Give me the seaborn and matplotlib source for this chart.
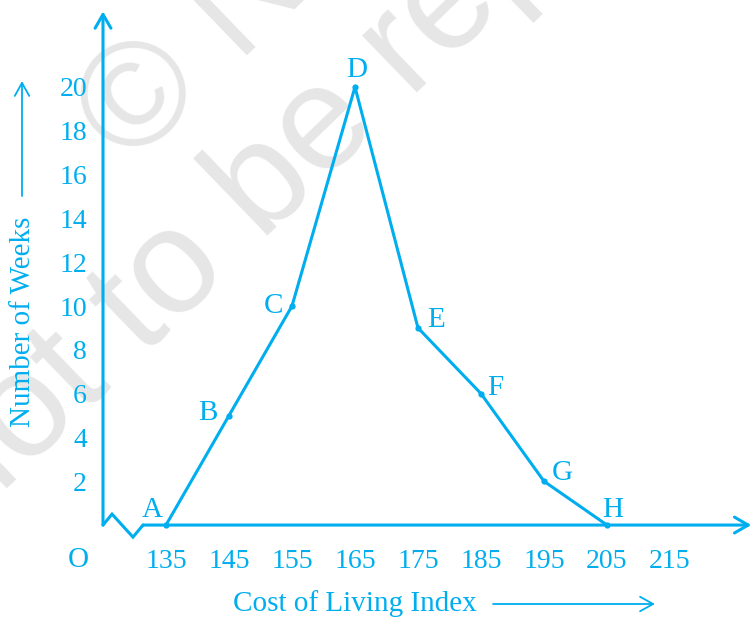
import numpy as np
import pandas as pd
import matplotlib
matplotlib.use("Agg")
import matplotlib.pyplot as plt
import seaborn as sns

# frequency polygon: cost of living index vs number of weeks
cost_index = [135, 145, 155, 165, 175, 185, 195, 205]
weeks = [0, 5, 10, 20, 9, 6, 2, 0]
point_names = ["A", "B", "C", "D", "E", "F", "G", "H"]
x_ticks = [135, 145, 155, 165, 175, 185, 195, 205, 215, 225]
x_tick_labels = ["135", "145", "155", "165", "175", "185", "195", "205", "215", ""]
y_ticks = [2, 4, 6, 8, 10, 12, 14, 16, 18, 20, 22]
y_tick_labels = ["2", "4", "6", "8", "10", "12", "14", "16", "18", "20", ""]

CYAN = "#00aeef"
W, H = 752, 621

sns.set_style("white")
plt.rcParams["font.family"] = ["Liberation Serif", "DejaVu Serif"]

df = pd.DataFrame({"index": cost_index, "weeks": weeks})

fig = plt.figure(figsize=(W / 100, H / 100), dpi=100)
ax = fig.add_axes([0, 0, 1, 1])
ax.set_xlim(108.65, 228.02)
ax.set_ylim(-4.38, 23.97)
for s in ax.spines.values():
    s.set_visible(False)


def px(x, y):
    # pixel position -> axes fraction
    return x / W, 1 - y / H


# watermark
for (wx, wy), txt in [((130, 168), "\u00a9 NCERT"), ((-36, 530), "not to be republished")]:
    ax.text(*px(wx, wy), txt, transform=ax.transAxes, rotation=44,
            rotation_mode="anchor", ha="left", va="baseline", fontsize=107,
            family="Liberation Sans", color="#e6e6e6", zorder=0)

# axes with arrows
ax.spines["left"].set_position(("data", 125))
ax.spines["bottom"].set_position(("data", 0))
arrow = dict(arrowstyle="->, head_length=0.45, head_width=0.26", color=CYAN,
             lw=2.2, mutation_scale=22, shrinkA=0, shrinkB=0)
ax.annotate("", xy=(125, 23.45), xytext=(125, 0), arrowprops=arrow, zorder=2)
ax.annotate("", xy=(227.9, 0), xytext=(131.35, 0), arrowprops=arrow, zorder=2)
ax.plot([125, 126.43, 129.76, 131.35], [0, 0.5, -0.55, 0], color=CYAN, lw=2.2,
        solid_joinstyle="miter", zorder=2)

ax.set_xticks(x_ticks, labels=x_tick_labels)
ax.set_yticks(y_ticks, labels=y_tick_labels)
ax.tick_params(axis="both", direction="inout", length=6.5, width=1.4,
               color=CYAN, labelcolor=CYAN, labelsize=20)
ax.tick_params(axis="y", pad=8.3)
ax.tick_params(axis="x", pad=14)
ax.xaxis.get_major_ticks()[0].tick1line.set_visible(False)

# polygon
sns.lineplot(data=df, x="index", y="weeks", ax=ax, color=CYAN, lw=2.2,
             marker="o", markersize=4.5, markeredgewidth=0, sort=False, zorder=3)
ax.set_xlabel("")
ax.set_ylabel("")

offsets = [(-10, 11), (-15, 2), (-13, 0), (1, 12), (13, 6), (10, 4), (13, 6), (4, 11)]
for name, xv, yv, off in zip(point_names, cost_index, weeks, offsets):
    ax.annotate(name, (xv, yv), xytext=off, textcoords="offset points",
                ha="center", va="center", fontsize=21, color=CYAN, zorder=4)

# origin and axis titles
thin = dict(arrowstyle="->, head_length=0.47, head_width=0.26", color=CYAN,
            lw=1.3, mutation_scale=20, shrinkA=0, shrinkB=0)
ax.text(*px(78, 560), "O", transform=ax.transAxes, ha="center", va="center",
        fontsize=21, color=CYAN)
ax.text(*px(233, 604), "Cost of Living Index", transform=ax.transAxes,
        ha="left", va="center", fontsize=21, color=CYAN)
ax.annotate("", xy=px(655, 604), xytext=px(493, 604), xycoords="axes fraction",
            textcoords="axes fraction", arrowprops=thin)
ax.text(*px(23, 322), "Number of Weeks", transform=ax.transAxes, rotation=90,
        ha="center", va="center", fontsize=21, color=CYAN)
ax.annotate("", xy=px(22, 81), xytext=px(22, 196), xycoords="axes fraction",
            textcoords="axes fraction", arrowprops=thin)

fig.savefig("out.png", dpi=100)
